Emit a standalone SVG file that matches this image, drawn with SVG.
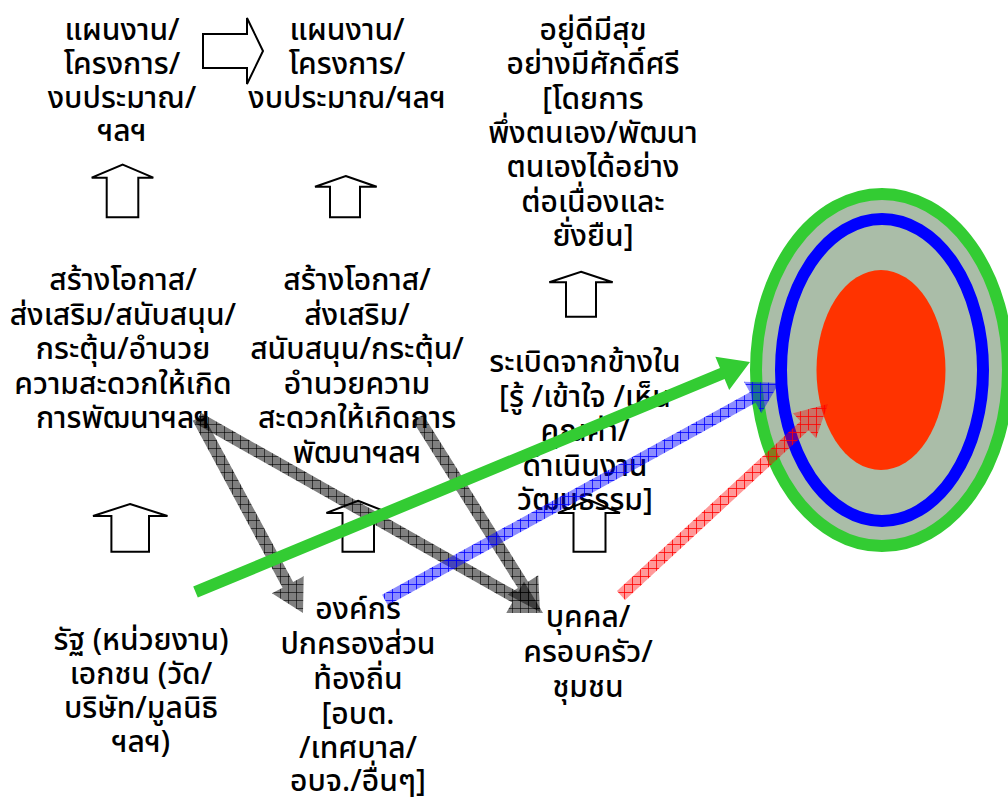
<svg xmlns="http://www.w3.org/2000/svg" width="1008" height="805" viewBox="0 0 1008 805">
<defs>
<style>
.t{font-family:"Noto Sans Thai","Noto Sans","DejaVu Sans",sans-serif;font-size:30px;font-weight:500;fill:#000;text-anchor:middle}
.blk{fill:#fff;stroke:#000;stroke-width:2;stroke-linejoin:miter}
</style>
<pattern id="pg" width="8" height="8" patternUnits="userSpaceOnUse">
<rect width="8" height="8" fill="#000" fill-opacity="0.5"/>
<path d="M0 0.5H8M0.5 0V8" stroke="#000" stroke-opacity="0.6" stroke-width="1"/>
</pattern>
<pattern id="pb" width="8" height="8" patternUnits="userSpaceOnUse">
<rect width="8" height="8" fill="#0000ff" fill-opacity="0.45"/>
<path d="M0 0.5H8M0.5 0V8" stroke="#0000ff" stroke-opacity="0.8" stroke-width="1"/>
</pattern>
<pattern id="pr" width="8" height="8" patternUnits="userSpaceOnUse">
<rect width="8" height="8" fill="#ff0000" fill-opacity="0.4"/>
<path d="M0 0.5H8M0.5 0V8" stroke="#ff0000" stroke-opacity="0.8" stroke-width="1"/>
</pattern>
</defs>
<rect width="1008" height="805" fill="#fff"/>

<g id="target">
<ellipse cx="882" cy="370" rx="126" ry="176" fill="#aabda8" stroke="#33cc33" stroke-width="12"/>
<ellipse cx="882" cy="370" rx="101" ry="151" fill="none" stroke="#0000ff" stroke-width="12"/>
<ellipse cx="881" cy="370" rx="64.5" ry="100" fill="#ff3300"/>
</g>

<g id="block-arrows">
<polygon class="blk" points="203,34 247,34 247,18 263,51 247,84 247,68 203,68"/>
<polygon class="blk" points="122.7,164.7 153.3,177.7 138.3,177.7 138.3,217.3 106.7,217.3 106.7,177.7 91.7,177.7"/>
<polygon class="blk" points="345.7,176 376.7,186.7 360,186.7 360,217.3 330,217.3 330,186.7 315,186.7"/>
<polygon class="blk" points="581,271.7 612.7,282.3 596,282.3 596,316.7 566,316.7 566,282.3 549.3,282.3"/>
<polygon class="blk" points="130,504 167.5,516 149,516 149,551.8 111.4,551.8 111.4,516 93,516"/>
<polygon class="blk" points="358,500.7 389,513 374,513 374,551.8 342.5,551.8 342.5,513 326.4,513"/>
<polygon class="blk" points="589,500 620,513 605.5,513 605.5,551.8 573.5,551.8 573.5,513 558,513"/>
</g>

<g id="n-plan1"><text class="t"><tspan x="122" y="40">แผนงาน/</tspan><tspan x="122" y="74">โครงการ/</tspan><tspan x="122" y="108">งบประมาณ/</tspan><tspan x="122" y="141">ฯลฯ</tspan></text></g>
<g id="n-plan2"><text class="t"><tspan x="347" y="40">แผนงาน/</tspan><tspan x="347" y="74">โครงการ/</tspan><tspan x="347" y="108">งบประมาณ/ฯลฯ</tspan></text></g>
<g id="n-goal"><text class="t"><tspan x="593" y="40">อยู่ดีมีสุข</tspan><tspan x="593" y="74.3">อย่างมีศักดิ์ศรี</tspan><tspan x="593" y="108.6">[โดยการ</tspan><tspan x="593" y="142.9">พึ่งตนเอง/พัฒนา</tspan><tspan x="593" y="177.2">ตนเองได้อย่าง</tspan><tspan x="593" y="211.5">ต่อเนื่องและ</tspan><tspan x="593" y="245.8">ยั่งยืน]</tspan></text></g>
<g id="n-support1"><text class="t"><tspan x="123" y="290">สร้างโอกาส/</tspan><tspan x="123" y="324.5">ส่งเสริม/สนับสนุน/</tspan><tspan x="123" y="359">กระตุ้น/อำนวย</tspan><tspan x="123" y="393.5">ความสะดวกให้เกิด</tspan><tspan x="123" y="428">การพัฒนาฯลฯ</tspan></text></g>
<g id="n-support2"><text class="t"><tspan x="357" y="290">สร้างโอกาส/</tspan><tspan x="357" y="324.5">ส่งเสริม/</tspan><tspan x="357" y="359">สนับสนุน/กระตุ้น/</tspan><tspan x="357" y="393.5">อำนวยความ</tspan><tspan x="357" y="428">สะดวกให้เกิดการ</tspan><tspan x="357" y="462.5">พัฒนาฯลฯ</tspan></text></g>
<g id="n-inner"><text class="t"><tspan x="585" y="372">ระเบิดจากข้างใน</tspan><tspan x="585" y="406.5">[รู้ /เข้าใจ /เห็น</tspan><tspan x="585" y="441">คุณค่า/</tspan><tspan x="585" y="475.5">ดำเนินงาน</tspan><tspan x="585" y="510">วัฒนธรรม]</tspan></text></g>
<g id="n-state"><text class="t"><tspan x="141" y="650">รัฐ (หน่วยงาน)</tspan><tspan x="141" y="684">เอกชน (วัด/</tspan><tspan x="141" y="718">บริษัท/มูลนิธิ</tspan><tspan x="141" y="752">ฯลฯ)</tspan></text></g>
<g id="n-local"><text class="t"><tspan x="358" y="619">องค์กร</tspan><tspan x="358" y="654">ปกครองส่วน</tspan><tspan x="358" y="689">ท้องถิ่น</tspan><tspan x="358" y="724">[อบต.</tspan><tspan x="358" y="758">/เทศบาล/</tspan><tspan x="358" y="791">อบจ./อื่นๆ]</tspan></text></g>
<g id="n-person"><text class="t"><tspan x="588" y="627">บุคคล/</tspan><tspan x="588" y="662">ครอบครัว/</tspan><tspan x="588" y="697">ชุมชน</tspan></text></g>

<g id="connectors">
<polygon fill="url(#pg)" points="192.72,420.84 282.55,587.67 271.98,593.36 303,613 303.68,576.30 293.11,581.99 203.28,415.16"/>
<polygon fill="url(#pg)" points="195.05,423.22 512.19,602.47 506.28,612.92 543,613 524.00,581.58 518.09,592.03 200.95,412.78"/>
<polygon fill="url(#pg)" points="412.92,421.19 517.89,588.11 507.73,594.50 540,612 538.21,575.34 528.05,581.73 423.08,414.81"/>
<polygon fill="#33cc33" points="197.8,597.54 724.59,379.03 729.19,390.12 750,362 715.39,356.86 719.99,367.95 193.2,586.46"/>
<polygon fill="url(#pb)" points="387.89,605.26 755.61,402.73 761.40,413.24 779,383 744.04,381.70 749.83,392.21 382.11,594.74"/>
<polygon fill="url(#pr)" points="625.07,599.90 808.58,430.13 816.05,438.21 828,404 792.97,413.25 800.44,421.33 616.93,591.1"/>
</g>
</svg>
